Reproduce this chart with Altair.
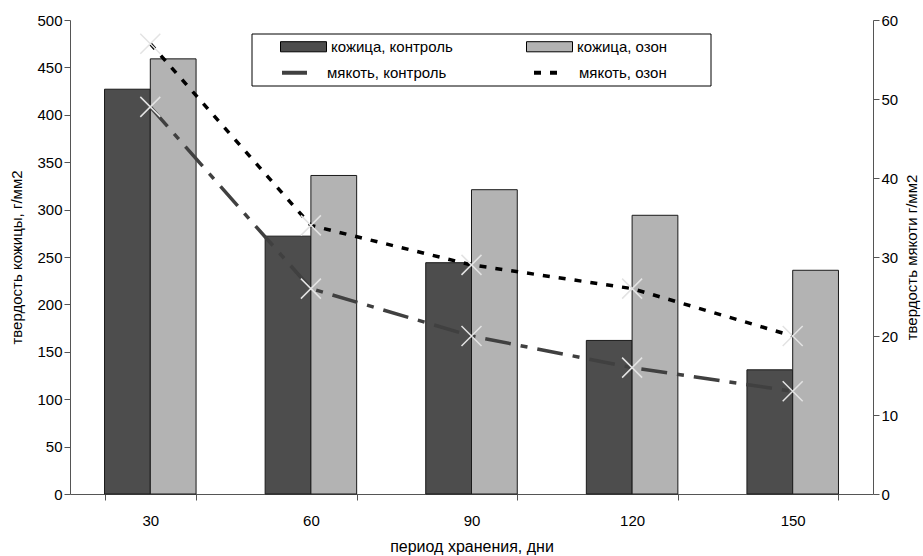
import altair as alt
import pandas as pd

days = ["30", "60", "90", "120", "150"]
skin_control = [427, 272, 244, 162, 131]
skin_ozone = [459, 336, 321, 294, 236]
pulp_control = [49, 26, 20, 16, 13]
pulp_ozone = [57, 34, 29, 26, 20]

bar_series = ["кожица, контроль", "кожица, озон"]
line_series = ["мякоть, контроль", "мякоть, озон"]

bars_df = pd.DataFrame(
    [{"day": d, "series": bar_series[0], "v": v} for d, v in zip(days, skin_control)]
    + [{"day": d, "series": bar_series[1], "v": v} for d, v in zip(days, skin_ozone)]
)
lines_df = pd.DataFrame(
    [{"day": d, "series": line_series[0], "v": v} for d, v in zip(days, pulp_control)]
    + [{"day": d, "series": line_series[1], "v": v} for d, v in zip(days, pulp_ozone)]
)

FONT = "Arial, Liberation Sans, sans-serif"

xenc = alt.X(
    "day:N",
    sort=days,
    scale=alt.Scale(paddingInner=0.43, paddingOuter=0.215),
    axis=alt.Axis(
        title="период хранения, дни",
        titleFontSize=16,
        labelAngle=0,
        tickBand="extent",
        tickSize=6,
        labelPadding=13,
        titlePadding=10,
    ),
)

bars = alt.Chart(bars_df).mark_bar(stroke="#1a1a1a", strokeWidth=1).encode(
    x=xenc,
    xOffset=alt.XOffset("series:N", sort=bar_series, scale=alt.Scale(paddingInner=0, paddingOuter=0)),
    y=alt.Y(
        "v:Q",
        scale=alt.Scale(domain=[0, 500]),
        axis=alt.Axis(title="твердость кожицы, г/мм2", values=list(range(0, 501, 50)), titlePadding=12),
    ),
    fill=alt.Fill(
        "series:N",
        scale=alt.Scale(domain=bar_series, range=["#4d4d4d", "#b3b3b3"]),
        legend=alt.Legend(
            title=None,
            orient="none",
            legendX=210,
            legendY=3,
            columns=2,
            columnPadding=71,
            symbolType="M-1,-0.22H1V0.22H-1Z",
            symbolSize=2116,
            symbolStrokeColor="#000",
            symbolStrokeWidth=1,
            labelOffset=4,
            labelFontSize=15,
            labelFont=FONT,
            labelColor="#000",
        ),
    ),
)

yright = alt.Y(
    "v:Q",
    scale=alt.Scale(domain=[0, 60]),
    axis=alt.Axis(
        title="твердость мякоти г/мм2",
        orient="right",
        values=list(range(0, 61, 10)),
        titleAngle=270,
        titlePadding=7,
        titleBaseline="top",
    ),
)

line_legend = alt.Legend(
    title=None,
    orient="none",
    legendX=210,
    legendY=38,
    columns=2,
    columnPadding=79,
    symbolType="stroke",
    symbolSize=625,
    symbolStrokeWidth=4,
    labelOffset=18,
    labelFontSize=15,
    labelFont=FONT,
    labelColor="#000",
)

lines = alt.Chart(lines_df).mark_line(strokeWidth=3.5).encode(
    x=alt.X("day:N", sort=days),
    y=yright,
    stroke=alt.Stroke(
        "series:N",
        scale=alt.Scale(domain=line_series, range=["#404040", "#000000"]),
        legend=line_legend,
    ),
    strokeDash=alt.StrokeDash(
        "series:N",
        scale=alt.Scale(domain=line_series, range=[[26, 10, 7, 10], [7, 9]]),
        legend=line_legend,
    ),
)

points = alt.Chart(lines_df).mark_point(
    shape="M-1,-1L1,1M-1,1L1,-1", size=400, filled=False, stroke="#e3e3e3", strokeWidth=1.5, opacity=1
).encode(
    x=alt.X("day:N", sort=days),
    y=alt.Y("v:Q", scale=alt.Scale(domain=[0, 60])),
    detail="series:N",
)

frame = alt.Chart(pd.DataFrame({"a": [0]})).mark_rect(
    fill="white", stroke="#000", strokeWidth=1
).encode(
    x=alt.value(182), x2=alt.value(641), y=alt.value(14), y2=alt.value(66)
)

chart = alt.layer(
    bars, frame, alt.layer(lines, points)
).resolve_scale(y="independent").properties(
    width=803,
    height=474,
    padding={"left": 70, "top": 20, "right": 50, "bottom": 62},
    autosize=alt.AutoSizeParams(type="none"),
    background="white",
).configure_view(stroke=None).configure_axis(
    labelFont=FONT,
    titleFont=FONT,
    labelFontSize=15,
    titleFontSize=15,
    titleFontWeight="normal",
    labelColor="#000",
    titleColor="#000",
    domainColor="#555",
    tickColor="#555",
    grid=False,
    tickSize=6,
)

chart.save("out.html", embed_options={"renderer": "svg", "actions": False})
